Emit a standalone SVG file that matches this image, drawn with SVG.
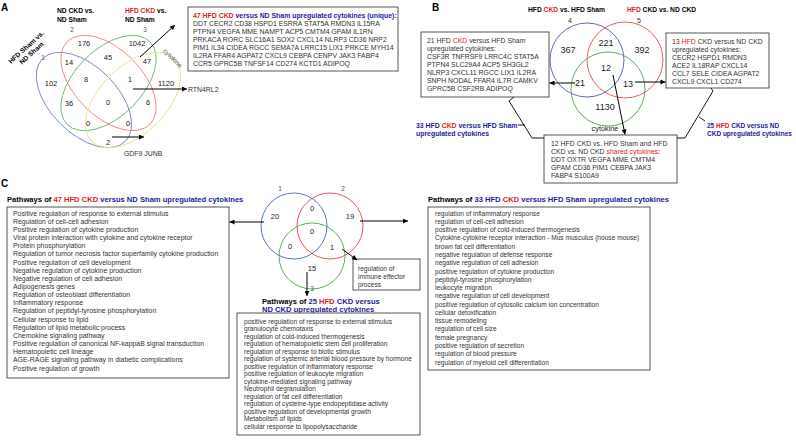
<svg xmlns="http://www.w3.org/2000/svg" width="796" height="445" viewBox="0 0 796 445">
<defs>
<marker id="ah" viewBox="0 0 10 10" refX="10" refY="5" markerUnits="userSpaceOnUse" markerWidth="6" markerHeight="5" orient="auto"><path d="M0,0 L10,5 L0,10 z" fill="#000"/></marker>
<style>
text{font-family:"Liberation Sans",Arial,sans-serif;dominant-baseline:central}
.pl{font-size:10px;font-weight:bold;fill:#000}
.hd{font-size:6.7px;font-weight:bold;fill:#000}
.g{font-size:6.9px;fill:#333}
.gb{font-size:6.9px;font-weight:bold}
.ti{font-size:7.6px;font-weight:bold;fill:#000}
.r{fill:#e3201b}
.bl{fill:#1c1ca0}
.na{font-size:7.5px;fill:#222;text-anchor:middle}
.nb{font-size:9px;fill:#222;text-anchor:middle}
.sl{font-size:6.5px;fill:#555;text-anchor:middle}
.li{font-size:6.9px;fill:#333}
.lc{font-size:6.6px;fill:#333}
.box{fill:#fff;stroke:#444;stroke-width:0.9}
.ar{stroke:#000;stroke-width:1;fill:none;marker-end:url(#ah)}
.br{stroke:#000;stroke-width:0.9;fill:none}
.v{fill:none;stroke-width:0.9}
</style>
</defs>
<rect width="796" height="445" fill="#fff"/>

<!-- ===== Panel A ===== -->
<g id="panelA-label"><text class="pl" x="1" y="7">A</text></g>
<g id="A-venn">
<ellipse class="v" cx="83.9" cy="100" rx="58.5" ry="33.5" transform="rotate(45 83.9 100)" stroke="#7d80c6"/>
<ellipse class="v" cx="108.5" cy="83" rx="58.5" ry="33.5" transform="rotate(45 108.5 83)" stroke="#e8867f"/>
<ellipse class="v" cx="108.5" cy="83" rx="58.5" ry="33.5" transform="rotate(-45 108.5 83)" stroke="#6cba6c"/>
<ellipse class="v" cx="133.1" cy="100" rx="58.5" ry="33.5" transform="rotate(-45 133.1 100)" stroke="#eddc8e"/>
<text class="na" x="84" y="43">176</text>
<text class="na" x="137" y="43">1042</text>
<text class="na" x="69" y="62">14</text>
<text class="na" x="108" y="57">45</text>
<text class="na" x="147" y="61">47</text>
<text class="na" x="51" y="83">102</text>
<text class="na" x="86" y="79">8</text>
<text class="na" x="130" y="79">1</text>
<text class="na" x="166" y="83">1120</text>
<text class="na" x="69" y="103">36</text>
<text class="na" x="108" y="102">0</text>
<text class="na" x="148" y="102">6</text>
<text class="na" x="88" y="123">0</text>
<text class="na" x="128" y="123">0</text>
<text class="na" x="108" y="142">2</text>
<text class="sl" x="43" y="57">1</text>
<text class="sl" x="72" y="29">2</text>
<text class="sl" x="145" y="29">3</text>
<text class="sl" x="173" y="58" transform="rotate(45 173 58)">cytokine</text>
</g>
<g id="A-set-titles">
<text class="hd" x="57" y="10">ND CKD vs.</text>
<text class="hd" x="57" y="19">ND Sham</text>
<text class="hd" x="125" y="10"><tspan class="r">HFD CKD</tspan> vs.</text>
<text class="hd" x="125" y="19">ND Sham</text>
<g transform="translate(26 47) rotate(-42)">
<text class="hd" x="0" y="0" text-anchor="middle">HFD Sham vs.</text>
<text class="hd" x="0" y="8" text-anchor="middle">ND Sham</text>
</g>
</g>
<g id="A-box">
<rect class="box" x="188" y="7" width="210" height="64"/>
<text class="gb" x="193" y="15"><tspan class="r">47 HFD CKD</tspan><tspan class="bl"> versus ND Sham upregulated cytokines (unique):</tspan></text>
<text class="g" x="193" y="23.1">DDT CECR2 CD38 HSPD1 ESRRA STAT5A RMDN3 IL15RA</text>
<text class="g" x="193" y="31.2">PTPN4 VEGFA MME NAMPT ACP5 CMTM4 GPAM IL1RN</text>
<text class="g" x="193" y="39.3">PRKACA RORC SLC16A1 SOX2 CXCL14 NLRP3 CD36 NRP2</text>
<text class="g" x="193" y="47.4">PIM1 IL34 CIDEA RGCC SEMA7A LRRC15 LIX1 PRKCE MYH14</text>
<text class="g" x="193" y="55.5">IL2RA FFAR4 AGPAT2 CXCL9 CEBPA CENPV JAK3 FABP4</text>
<text class="g" x="193" y="63.6">CCR5 GPRC5B TNFSF14 CD274 KCTD1 ADIPOQ</text>
</g>
<g id="A-RTN4RL2"><text class="g" x="188" y="89">RTN4RL2</text></g>
<g id="A-GDF9"><text class="g" x="124" y="153">GDF9 JUNB</text></g>

<!-- ===== Panel B ===== -->
<g id="panelB-label"><text class="pl" x="432" y="7">B</text></g>
<g id="B-venn">
<circle class="v" cx="587" cy="60" r="37" stroke="#4a5cb2"/>
<circle class="v" cx="625" cy="60" r="38" stroke="#e0504c"/>
<circle class="v" cx="608" cy="89" r="37" stroke="#4aa34a"/>
<text class="nb" x="568" y="50">367</text>
<text class="nb" x="606" y="43">221</text>
<text class="nb" x="642" y="50">392</text>
<text class="nb" x="606" y="68">12</text>
<text class="nb" x="580" y="83">21</text>
<text class="nb" x="628" y="84">13</text>
<text class="nb" x="605" y="107">1130</text>
<text class="sl" x="570" y="20" style="font-size:7px;fill:#333">4</text>
<text class="sl" x="639" y="20" style="font-size:7px;fill:#333">5</text>
<text class="sl" x="605" y="128" style="font-size:7.3px;fill:#222">cytokine</text>
</g>
<g id="B-set-titles">
<text class="hd" x="528" y="9">HFD <tspan class="r">CKD</tspan> vs. HFD Sham</text>
<text class="hd" x="627" y="9"><tspan class="r">HFD</tspan> CKD vs. ND CKD</text>
</g>
<g id="B-box-left">
<rect class="box" x="421" y="32" width="128" height="65"/>
<text class="g" x="427" y="40">21 HFD <tspan class="r">CKD</tspan> versus HFD Sham</text>
<text class="g" x="427" y="48">upregulated cytokines:</text>
<text class="g" x="427" y="56">CSF3R TNFRSF9 LRRC4C STAT5A</text>
<text class="g" x="427" y="64">PTPN4 SLC29A4 ACP5 SH3GL2</text>
<text class="g" x="427" y="72">NLRP3 CXCL11 RGCC LIX1 IL2RA</text>
<text class="g" x="427" y="80">SNPH NODAL FFAR4 IL7R CAMKV</text>
<text class="g" x="427" y="88">GPRC5B CSF2RB ADIPOQ</text>
</g>
<g id="B-box-right">
<rect class="box" x="666" y="33" width="103" height="55"/>
<text class="g" x="672" y="41">13 <tspan class="r">HFD</tspan> CKD versus ND CKD</text>
<text class="g" x="672" y="49">upregulated cytokines:</text>
<text class="g" x="672" y="57">CECR2 HSPD1 RMDN3</text>
<text class="g" x="672" y="65">ACE2 IL18RAP CXCL14</text>
<text class="g" x="672" y="73">CCL7 SELE CIDEA AGPAT2</text>
<text class="g" x="672" y="81">CXCL9 CXCL1 CD274</text>
</g>
<g id="B-box-bottom">
<rect class="box" x="544" y="135" width="133" height="48"/>
<text class="g" x="551" y="143">12 HFD CKD vs. HFD Sham and HFD</text>
<text class="g" x="551" y="151">CKD vs. ND CKD <tspan class="r">shared cytokines</tspan>:</text>
<text class="g" x="551" y="159">DDT OXTR VEGFA MME CMTM4</text>
<text class="g" x="551" y="167">GPAM CD36 PIM1 CEBPA JAK3</text>
<text class="g" x="551" y="175">FABP4 S100A9</text>
</g>
<g id="B-label-33">
<text class="gb bl" x="416" y="125">33 HFD <tspan class="r">CKD</tspan> versus HFD Sham</text>
<text class="gb bl" x="416" y="133">upregulated cytokines</text>
</g>
<g id="B-label-25">
<text class="gb bl" x="707" y="125" style="font-size:6.5px">25 <tspan class="r">HFD</tspan> CKD versus ND</text>
<text class="gb bl" x="707" y="133" style="font-size:6.5px">CKD upregulated cytokines</text>
</g>

<!-- ===== Panel C ===== -->
<g id="panelC-label"><text class="pl" x="1" y="183">C</text></g>
<g id="C-left-list">
<text class="ti" x="7" y="199">Pathways of <tspan class="r">47 HFD CKD</tspan><tspan class="bl"> versus ND Sham upregulated cytokines</tspan></text>
<rect class="box" x="7" y="207" width="222" height="171"/>
<text class="li" x="13" y="213">Positive regulation of response to external stimulus</text>
<text class="li" x="13" y="221.2">Regulation of cell-cell adhesion</text>
<text class="li" x="13" y="229.3">Positive regulation of cytokine production</text>
<text class="li" x="13" y="237.5">Viral protein interaction with cytokine and cytokine receptor</text>
<text class="li" x="13" y="245.6">Protein phosphorylation</text>
<text class="li" x="13" y="253.8">Regulation of tumor necrosis factor superfamily cytokine production</text>
<text class="li" x="13" y="262">Positive regulation of cell development</text>
<text class="li" x="13" y="270.1">Negative regulation of cytokine production</text>
<text class="li" x="13" y="278.3">Negative regulation of cell adhesion</text>
<text class="li" x="13" y="286.4">Adipogenesis genes</text>
<text class="li" x="13" y="294.6">Regulation of osteoblast differentiation</text>
<text class="li" x="13" y="302.8">Inflammatory response</text>
<text class="li" x="13" y="310.9">Regulation of peptidyl-tyrosine phosphorylation</text>
<text class="li" x="13" y="319.1">Cellular response to lipid</text>
<text class="li" x="13" y="327.2">Regulation of lipid metabolic process</text>
<text class="li" x="13" y="335.4">Chemokine signaling pathway</text>
<text class="li" x="13" y="343.6">Positive regulation of canonical NF-kappaB signal transduction</text>
<text class="li" x="13" y="351.7">Hematopoietic cell lineage</text>
<text class="li" x="13" y="359.9">AGE-RAGE signaling pathway in diabetic complications</text>
<text class="li" x="13" y="368">Positive regulation of growth</text>
</g>
<g id="C-venn">
<circle class="v" cx="294" cy="226" r="33" stroke="#4466bb"/>
<circle class="v" cx="330" cy="226" r="33" stroke="#dd4444"/>
<circle class="v" cx="312" cy="256" r="33" stroke="#44aa44"/>
<text class="na" x="275" y="216">20</text>
<text class="na" x="312" y="208">0</text>
<text class="na" x="350" y="216">19</text>
<text class="na" x="312" y="231">0</text>
<text class="na" x="290" y="246">0</text>
<text class="na" x="332" y="247">1</text>
<text class="na" x="312" y="268">15</text>
<text class="sl" x="280" y="188">1</text>
<text class="sl" x="343" y="188">2</text>
<text class="sl" x="312" y="288">3</text>
</g>
<g id="C-immune-box">
<rect class="box" x="353" y="259" width="67" height="31"/>
<text class="lc bl" x="358" y="268">regulation of</text>
<text class="lc bl" x="358" y="276">immune effector</text>
<text class="lc bl" x="358" y="284">process</text>
</g>
<g id="C-center-list">
<text class="ti" x="262" y="301">Pathways of <tspan class="bl">25 </tspan><tspan class="r">HFD</tspan><tspan class="bl"> CKD versus</tspan></text>
<text class="ti bl" x="262" y="309">ND CKD upregulated cytokines</text>
<rect class="box" x="237" y="313" width="183" height="122"/>
<text class="lc" x="244" y="321">positive regulation of response to external stimulus</text>
<text class="lc" x="244" y="328.5">granulocyte chemotaxis</text>
<text class="lc" x="244" y="336">regulation of cold-induced thermogenesis</text>
<text class="lc" x="244" y="343.5">regulation of hematopoietic stem cell proliferation</text>
<text class="lc" x="244" y="351">regulation of response to biotic stimulus</text>
<text class="lc" x="244" y="358.5">regulation of systemic arterial blood pressure by hormone</text>
<text class="lc" x="244" y="366">positive regulation of inflammatory response</text>
<text class="lc" x="244" y="373.5">positive regulation of leukocyte migration</text>
<text class="lc" x="244" y="381">cytokine-mediated signaling pathway</text>
<text class="lc" x="244" y="388.5">Neutrophil degranulation</text>
<text class="lc" x="244" y="396">regulation of fat cell differentiation</text>
<text class="lc" x="244" y="403.5">regulation of cysteine-type endopeptidase activity</text>
<text class="lc" x="244" y="411">positive regulation of developmental growth</text>
<text class="lc" x="244" y="418.5">Metabolism of lipids</text>
<text class="lc" x="244" y="426">cellular response to lipopolysaccharide</text>
</g>
<g id="C-right-list">
<text class="ti" x="428" y="199">Pathways of <tspan class="bl">33 HFD </tspan><tspan class="r">CKD</tspan><tspan class="bl"> versus HFD Sham upregulated cytokines</tspan></text>
<rect class="box" x="428" y="207" width="222" height="163"/>
<text class="lc" x="435" y="213">regulation of inflammatory response</text>
<text class="lc" x="435" y="221.3">regulation of cell-cell adhesion</text>
<text class="lc" x="435" y="229.6">positive regulation of cold-induced thermogenesis</text>
<text class="lc" x="435" y="237.8">Cytokine-cytokine receptor interaction - Mus musculus (house mouse)</text>
<text class="lc" x="435" y="246.1">brown fat cell differentiation</text>
<text class="lc" x="435" y="254.4">negative regulation of defense response</text>
<text class="lc" x="435" y="262.7">negative regulation of cell adhesion</text>
<text class="lc" x="435" y="271">positive regulation of cytokine production</text>
<text class="lc" x="435" y="279.2">peptidyl-tyrosine phosphorylation</text>
<text class="lc" x="435" y="287.5">leukocyte migration</text>
<text class="lc" x="435" y="295.8">negative regulation of cell development</text>
<text class="lc" x="435" y="304.1">positive regulation of cytosolic calcium ion concentration</text>
<text class="lc" x="435" y="312.4">cellular detoxification</text>
<text class="lc" x="435" y="320.6">tissue remodeling</text>
<text class="lc" x="435" y="328.9">regulation of cell size</text>
<text class="lc" x="435" y="337.2">female pregnancy</text>
<text class="lc" x="435" y="345.5">positive regulation of secretion</text>
<text class="lc" x="435" y="353.8">regulation of blood pressure</text>
<text class="lc" x="435" y="362">regulation of myeloid cell differentiation</text>
</g>

<!-- ===== Connectors ===== -->
<g id="connectors">
<line class="ar" x1="140" y1="57" x2="175" y2="25"/>
<line class="ar" x1="133" y1="89" x2="187" y2="89"/>
<line class="ar" x1="112" y1="137" x2="144" y2="137"/>
<line class="ar" x1="575" y1="83" x2="549.5" y2="83"/>
<line class="ar" x1="635" y1="82" x2="665.5" y2="82"/>
<line class="ar" x1="613" y1="75" x2="625" y2="134.5"/>
<polyline class="br" points="514,97 509,101 532,138 544,138"/>
<line class="br" x1="518" y1="125" x2="525" y2="125"/>
<polyline class="br" points="711,88 713,91 685,138 677,138"/>
<line class="br" x1="699" y1="117" x2="705" y2="121"/>
<line class="ar" x1="264" y1="222" x2="229.5" y2="222"/>
<line class="ar" x1="360" y1="221" x2="408" y2="221"/>
<line class="ar" x1="342" y1="249" x2="357" y2="260"/>
<line class="ar" x1="307" y1="272" x2="307" y2="296"/>
</g>
</svg>
